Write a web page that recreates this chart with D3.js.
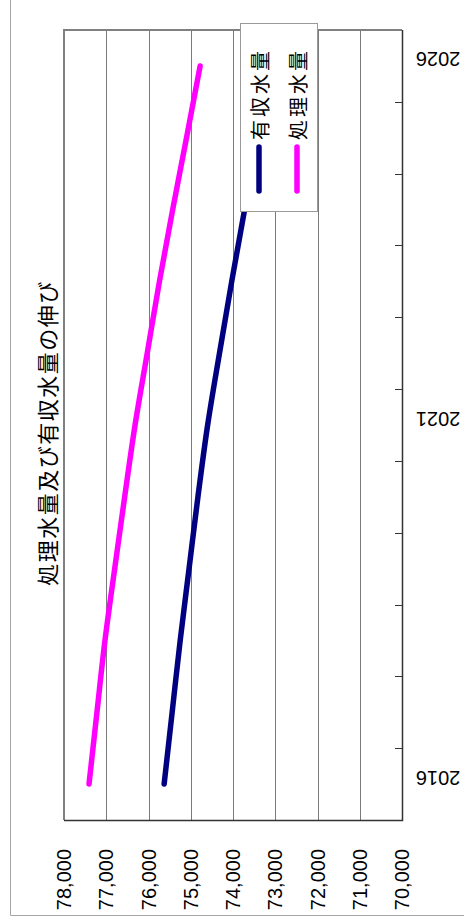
<!DOCTYPE html>
<html>
<head>
<meta charset="utf-8">
<script src="https://cdn.jsdelivr.net/npm/d3@7/dist/d3.min.js"></script>
<style>
  html, body { margin: 0; padding: 0; background: #fff; }
  svg { display: block; }
  .num { font-family: "Liberation Sans", Arial, sans-serif; }
  .jp { font-family: "Noto Sans CJK JP", sans-serif; }
</style>
</head>
<body>
<script>
// Years on the category axis
const years = [2016, 2017, 2018, 2019, 2020, 2021, 2022, 2023, 2024, 2025, 2026];
// 有収水量 (billed water volume)
const yushuVolume = [75630, 75440, 75250, 75040, 74830, 74600, 74320, 74030, 73725, 73390, 73050];
// 処理水量 (treated water volume)
const shoriVolume = [77408, 77220, 77030, 76800, 76564, 76318, 76030, 75741, 75427, 75100, 74778];
// Value axis ticks
const valueTicks = [78000, 77000, 76000, 75000, 74000, 73000, 72000, 71000, 70000];
// Years that carry a label
const labeledYears = [2016, 2021, 2026];
const seriesNames = ["有収水量", "処理水量"];
const seriesColors = ["#000080", "#ff00ff"];
const titleText = "処理水量及び有収水量の伸び";

const W = 464, H = 921;
const plot = { left: 64, right: 402, top: 30, bottom: 820 };

const svg = d3.select("body").append("svg").attr("width", W).attr("height", H);

// outer frame
svg.append("path")
  .attr("d", `M10.5,0 V915.5 H${W}`)
  .attr("fill", "none").attr("stroke", "#a6a6a6").attr("stroke-width", 1);

const x = d3.scaleLinear().domain([78000, 70000]).range([plot.left, plot.right]);
const y = d3.scaleBand().domain(years.slice().reverse()).range([plot.top, plot.bottom]);
const yc = d => y(d) + y.bandwidth() / 2;

// vertical gridlines
svg.append("g").selectAll("line").data(valueTicks).join("line")
  .attr("x1", d => Math.round(x(d)) + 0.5).attr("x2", d => Math.round(x(d)) + 0.5)
  .attr("y1", plot.top).attr("y2", plot.bottom)
  .attr("stroke", "#7a7a7a").attr("stroke-width", 1);

// plot frame: top/left grey, right/bottom dark
svg.append("path")
  .attr("d", `M${plot.left},${plot.bottom} V${plot.top} H${plot.right}`)
  .attr("fill", "none").attr("stroke", "#808080").attr("stroke-width", 2);
svg.append("path")
  .attr("d", `M${plot.left},${plot.bottom + 0.5} H${plot.right + 0.5} V${plot.top}`)
  .attr("fill", "none").attr("stroke", "#333").attr("stroke-width", 1.5);

// category boundary ticks on the right axis
const bounds = years.map(d => y(d)).filter(v => v > plot.top + 1);
svg.append("g").selectAll("line").data(bounds).join("line")
  .attr("x1", plot.right - 7).attr("x2", plot.right)
  .attr("y1", d => Math.round(d) + 0.5).attr("y2", d => Math.round(d) + 0.5)
  .attr("stroke", "#333").attr("stroke-width", 1);

// value labels along the bottom, rotated
svg.append("g").selectAll("text").data(valueTicks).join("text")
  .attr("class", "num")
  .attr("transform", d => `translate(${x(d)},849) rotate(-90)`)
  .attr("text-anchor", "end")
  .attr("dominant-baseline", "central")
  .attr("font-size", 20)
  .attr("fill", "#000")
  .text(d => d3.format(",")(d));

// year labels on the right, upside down
svg.append("g").selectAll("text").data(labeledYears).join("text")
  .attr("class", "num")
  .attr("transform", d => `translate(438,${yc(d) - 13.5}) rotate(180)`)
  .attr("text-anchor", "middle")
  .attr("font-size", 20)
  .attr("fill", "#000")
  .text(d => d);

// series lines
const line = d3.line()
  .x(d => x(d.v))
  .y(d => yc(d.year))
  .curve(d3.curveMonotoneY);

const series = [yushuVolume, shoriVolume].map((vals, i) => ({
  name: seriesNames[i], color: seriesColors[i],
  pts: years.map((yr, j) => ({ year: yr, v: vals[j] }))
}));

svg.append("g").selectAll("path").data(series).join("path")
  .attr("d", d => line(d.pts))
  .attr("fill", "none")
  .attr("stroke", d => d.color)
  .attr("stroke-width", 5.5)
  .attr("stroke-linecap", "round")
  .attr("stroke-linejoin", "round");

// title
svg.append("text")
  .attr("class", "jp")
  .attr("transform", "translate(46,433) rotate(-90)")
  .attr("text-anchor", "middle")
  .attr("dominant-baseline", "central")
  .attr("font-size", 22)
  .attr("letter-spacing", 1.5)
  .attr("fill", "#000")
  .text(titleText);

// legend
const lg = svg.append("g");
lg.append("rect")
  .attr("x", 240.5).attr("y", 23.5).attr("width", 77).attr("height", 188)
  .attr("fill", "#fff").attr("stroke", "#9a9a9a").attr("stroke-width", 1);
const lx = [259, 297];
series.forEach((s, i) => {
  lg.append("line")
    .attr("x1", lx[i]).attr("x2", lx[i])
    .attr("y1", 147).attr("y2", 191)
    .attr("stroke", s.color).attr("stroke-width", 5.5)
    .attr("stroke-linecap", "round");
  lg.append("text")
    .attr("class", "jp")
    .attr("transform", `translate(${lx[i]},140) rotate(-90)`)
    .attr("text-anchor", "start")
    .attr("dominant-baseline", "central")
    .attr("font-size", 20)
    .attr("letter-spacing", 3)
    .attr("fill", "#000")
    .text(s.name);
});
</script>
</body>
</html>
